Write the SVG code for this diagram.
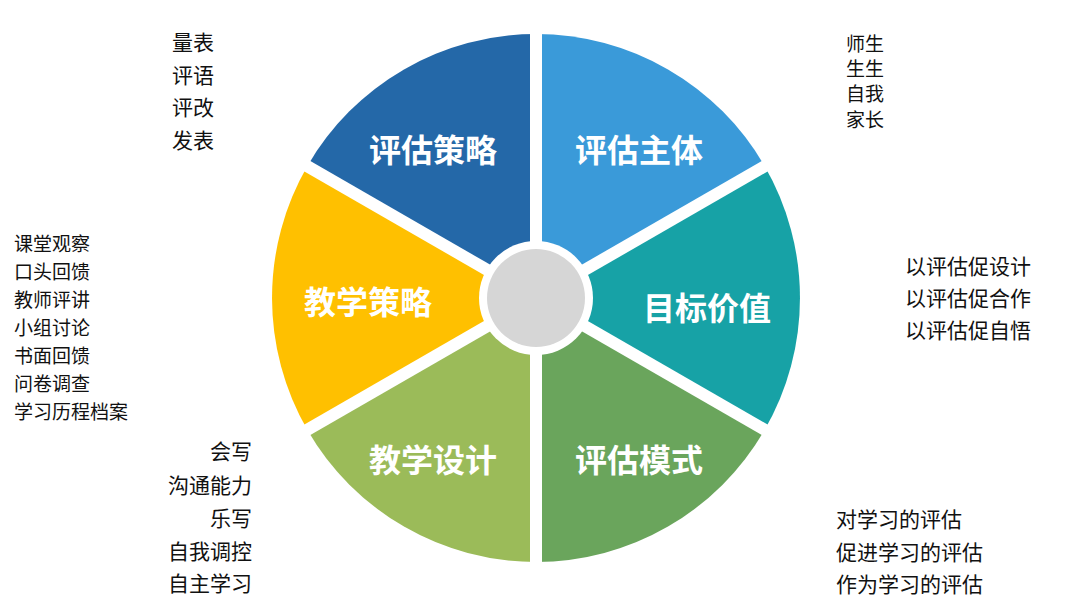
<svg xmlns="http://www.w3.org/2000/svg" width="1080" height="616" viewBox="0 0 1080 616">
<style>
.seg{font-family:"Noto Sans CJK SC","Noto Sans",sans-serif;font-weight:bold;font-size:32px;fill:#fff;text-anchor:middle;dominant-baseline:central}
.t{font-family:"Noto Sans CJK SC","Noto Sans",sans-serif;font-size:21px;fill:#111;dominant-baseline:central}
.s{font-size:19px}
</style>
<rect width="1080" height="616" fill="#fff"/>
<g id="wedges">
<g id="n-zhuti"><path d="M536,298 L536,34 A264,264 0 0 1 764.6,166 Z" fill="#3a9ad9"/><text class="seg" x="639" y="148">评估主体</text></g>
<g id="n-mubiao"><path d="M536,298 L764.6,166 A264,264 0 0 1 764.6,430 Z" fill="#17a2a6"/><text class="seg" x="707" y="306">目标价值</text></g>
<g id="n-moshi"><path d="M536,298 L764.6,430 A264,264 0 0 1 536,562 Z" fill="#6aa55c"/></g>
<g id="n-sheji"><path d="M536,298 L536,562 A264,264 0 0 1 307.4,430 Z" fill="#9bbb59"/></g>
<g id="n-jxcl"><path d="M536,298 L307.4,430 A264,264 0 0 1 307.4,166 Z" fill="#ffc000"/></g>
<g id="n-pgcl"><path d="M536,298 L307.4,166 A264,264 0 0 1 536,34 Z" fill="#2468a8"/></g>
</g>
<g id="connectors" stroke="#fff" stroke-width="12">
<line x1="536" y1="20" x2="536" y2="576"/>
<line x1="300" y1="162" x2="772" y2="434"/>
<line x1="300" y1="434" x2="772" y2="162"/>
</g>
<circle cx="536" cy="298" r="57" fill="#fff"/>
<circle id="center" cx="536" cy="298" r="49" fill="#d6d6d6"/>
<g id="labels">
<text class="seg" x="639" y="458">评估模式</text>
<text class="seg" x="433" y="458">教学设计</text>
<text class="seg" x="368" y="300">教学策略</text>
<text class="seg" x="433" y="148">评估策略</text>
</g>
<g id="notes">
<text class="t" x="172" y="41">量表</text><text class="t" x="172" y="74">评语</text><text class="t" x="172" y="106">评改</text><text class="t" x="172" y="139">发表</text>
<text class="t s" x="846" y="42">师生</text><text class="t s" x="846" y="67">生生</text><text class="t s" x="846" y="92">自我</text><text class="t s" x="846" y="118">家长</text>
<text class="t" x="905" y="265">以评估促设计</text><text class="t" x="905" y="297">以评估促合作</text><text class="t" x="905" y="329">以评估促自悟</text>
<text class="t s" x="14" y="242">课堂观察</text><text class="t s" x="14" y="270">口头回馈</text><text class="t s" x="14" y="298">教师评讲</text><text class="t s" x="14" y="326">小组讨论</text><text class="t s" x="14" y="354">书面回馈</text><text class="t s" x="14" y="382">问卷调查</text><text class="t s" x="14" y="410">学习历程档案</text>
<g text-anchor="end"><text class="t" x="252" y="450">会写</text><text class="t" x="252" y="484">沟通能力</text><text class="t" x="252" y="517">乐写</text><text class="t" x="252" y="550">自我调控</text><text class="t" x="252" y="582">自主学习</text></g>
<text class="t" x="836" y="518">对学习的评估</text><text class="t" x="836" y="551">促进学习的评估</text><text class="t" x="836" y="583">作为学习的评估</text>
</g>
</svg>
